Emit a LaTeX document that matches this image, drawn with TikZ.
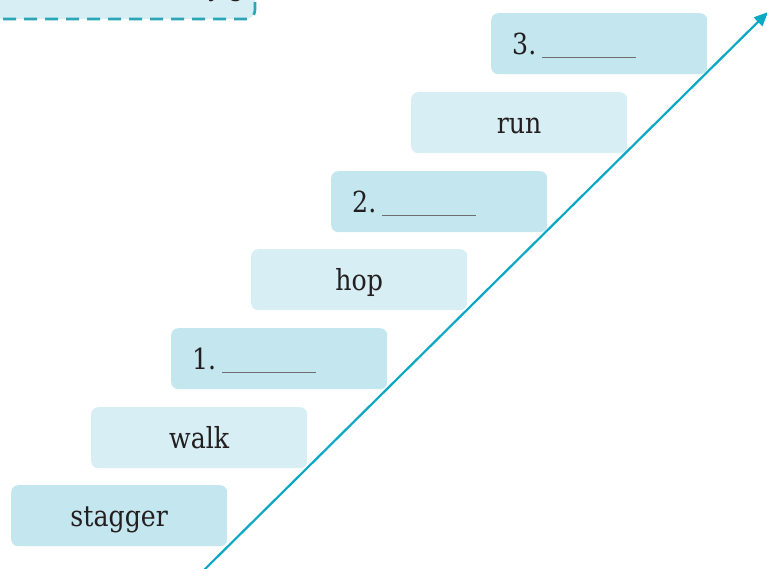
\documentclass[tikz,border=0pt]{standalone}
\usepackage{fontspec}
\setmainfont[FakeStretch=0.87]{DejaVu Serif}
\newfontfamily\labelsans{Noto Sans}
\usetikzlibrary{arrows.meta}
\definecolor{stepdark}{HTML}{C3E6EF}
\definecolor{steplight}{HTML}{D7EEF4}
\definecolor{arrowteal}{HTML}{0AA8C4}
\definecolor{dashteal}{HTML}{2BA6B6}
\definecolor{blankgray}{HTML}{6E6E6E}
\definecolor{inktext}{HTML}{231F20}
\tikzset{
  stepbox/.style={rounded corners=7pt, text width=174pt, inner xsep=21pt, inner ysep=0pt,
    minimum height=61pt, text height=22pt, text depth=1pt,
    font=\fontsize{29}{34}\selectfont, text=inktext, anchor=north west},
  darkstep/.style={stepbox, fill=stepdark},
  lightstep/.style={stepbox, fill=steplight},
  wordstep/.style={align=center},
  numstep/.style={align=left},
  climb/.style={line width=2.2pt, draw=arrowteal, -{Triangle[length=14pt,width=12pt]}},
  listframe/.style={draw=dashteal, line width=2.6pt, dash pattern=on 13pt off 8pt, rounded corners=9pt}
}
\newcommand{\blankline}{\hspace{6pt}\textcolor{blankgray}{\rule[-4pt]{94pt}{1.5pt}}}
\begin{document}
\begin{tikzpicture}[x=1pt,y=-1pt]
\useasboundingbox (0,0) rectangle (767,569);
\clip (0,0) rectangle (767,569);
% cut-off word list box
\fill[steplight, rounded corners=9pt] (-30,-40) rectangle (255,19);
\node[font=\labelsans\fontsize{22}{26}\selectfont, text=inktext, anchor=base east, inner sep=0pt] (cutlist) at (243,-3) {crawl, march, and jog};
\draw[listframe] (3,19) -| (255,-30);
% steps
\node[darkstep, wordstep] (stagger) at (11,485) {stagger};
\node[lightstep, wordstep] (walk) at (91,407) {walk};
\node[darkstep, numstep] (blank1) at (171,328) {1.\blankline};
\node[lightstep, wordstep] (hop) at (251,249) {hop};
\node[darkstep, numstep] (blank2) at (331,171) {2.\blankline};
\node[lightstep, wordstep] (run) at (411,92) {run};
\node[darkstep, numstep] (blank3) at (491,13) {3.\blankline};
% arrow
\coordinate (arrowstart) at (200,574);
\coordinate (arrowend) at (768,12);
\draw[climb] (arrowstart) -- (arrowend);
\end{tikzpicture}
\end{document}
